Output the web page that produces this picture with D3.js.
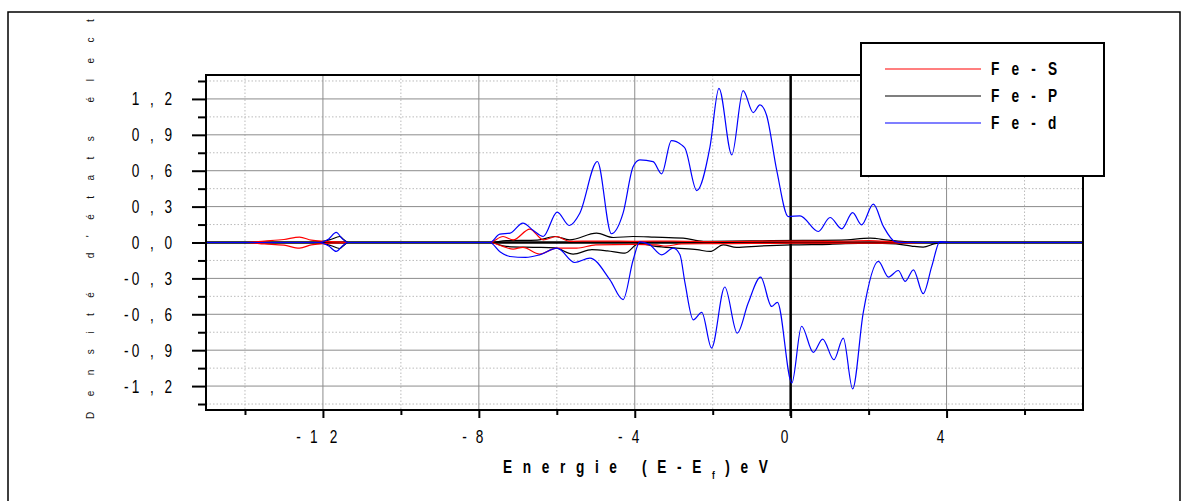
<!DOCTYPE html>
<html>
<head>
<meta charset="utf-8">
<script src="https://cdn.jsdelivr.net/npm/d3@7"></script>
<style>
  html, body { margin: 0; padding: 0; background: #fff; }
  svg { display: block; }
</style>
</head>
<body>
<svg id="chart" width="1189" height="501"></svg>
<script>
// ---- Axis ticks and labels ----
const xMajorTicks = [-12, -8, -4, 0, 4];
const xMinorTicks = [-14, -10, -6, -2, 2, 6];
const xTickLabels = ["-12", "-8", "-4", "0", "4"];
const yMajorTicks = [-1.2, -0.9, -0.6, -0.3, 0, 0.3, 0.6, 0.9, 1.2];
const yMinorTicks = [-1.35, -1.05, -0.75, -0.45, -0.15, 0.15, 0.45, 0.75, 1.05, 1.35];
const yTickLabels = ["-1,2", "-0,9", "-0,6", "-0,3", "0,0", "0,3", "0,6", "0,9", "1,2"];

// ---- Legend ----
const seriesNames = ["Fe-S", "Fe-P", "Fe-d"];
const seriesColors = ["#ff0000", "#000000", "#0000ff"];

// ---- Partial DOS, [E - Ef (eV), states] ; spin up > 0, spin down < 0 ----
const feSUp = [[-15,0],[-14,0],[-13.5,0.012],[-13,0.025],[-12.6,0.045],[-12.3,0.02],[-12,0.01],[-11.6,0.005],[-11.36,0],
  [-7.72,0],[-7.38,0.05],[-7.12,0.022],[-6.69,0.112],[-6.35,0.022],[-6.01,0.05],[-5.67,0.01],[-5,0.012],[-4,0.01],
  [-3,0.012],[-2,0.008],[-1,0.01],[0,0.012],[1,0.01],[2,0.015],[2.7,0.005],[3.2,0],[7.5,0]];
const feSDown = [[-15,0],[-14,0],[-13.5,-0.012],[-13,-0.022],[-12.6,-0.047],[-12.3,-0.02],[-12,-0.01],[-11.6,-0.004],[-11.36,0],
  [-7.72,0],[-7.38,-0.033],[-7.12,-0.055],[-6.87,-0.04],[-6.44,-0.097],[-6.01,-0.047],[-5.49,-0.047],[-5,-0.02],[-4,-0.015],
  [-3.44,-0.02],[-3.2,-0.03],[-2.8,-0.012],[-2,-0.01],[-1,-0.008],[0,-0.006],[1,-0.006],[2,-0.005],[3,-0.004],[3.5,0],[7.5,0]];
const fePUp = [[-15,0],[-12.2,0],[-11.8,0.025],[-11.57,0.05],[-11.45,0.02],[-11.36,0],
  [-7.72,0],[-7.3,0.015],[-6.5,0.02],[-6.05,0.05],[-5.67,0.022],[-4.98,0.078],[-4.55,0.042],[-4.04,0.05],[-3.5,0.045],
  [-2.76,0.036],[-2.24,0.01],[-1.5,0.012],[-0.5,0.015],[0.5,0.018],[1.3,0.02],[2.04,0.036],[2.5,0.02],[3,0.004],[3.4,0],[7.5,0]];
const fePDown = [[-15,0],[-12.2,0],[-11.8,-0.025],[-11.57,-0.05],[-11.45,-0.02],[-11.36,0],
  [-7.72,0],[-7.3,-0.033],[-6.6,-0.04],[-6.05,-0.045],[-5.58,-0.097],[-5.1,-0.06],[-4.7,-0.07],[-4.25,-0.089],[-3.9,-0.01],
  [-3.5,-0.03],[-2.93,-0.047],[-2.4,-0.06],[-2.07,-0.075],[-1.73,-0.02],[-1.39,-0.04],[-0.8,-0.03],[0,-0.02],[1,-0.015],
  [2,-0.005],[2.7,-0.012],[3.1,-0.03],[3.4,-0.039],[3.7,-0.01],[3.9,0],[7.5,0]];
const feDUp = [[-15,0],[-12.1,0],[-11.85,0.03],[-11.66,0.084],[-11.5,0.03],[-11.36,0],
  [-7.72,0],[-7.46,0.07],[-7.2,0.078],[-6.87,0.162],[-6.6,0.1],[-6.35,0.05],[-5.99,0.254],[-5.68,0.142],[-5.41,0.245],
  [-4.96,0.677],[-4.6,0.073],[-4.3,0.245],[-4.04,0.635],[-3.87,0.69],[-3.53,0.676],[-3.31,0.574],[-3.06,0.852],
  [-2.8,0.816],[-2.71,0.788],[-2.41,0.434],[-2.07,0.8],[-1.84,1.289],[-1.51,0.732],[-1.22,1.27],[-0.96,1.086],
  [-0.79,1.15],[-0.62,1.066],[-0.36,0.607],[-0.06,0.217],[0.24,0.223],[0.71,0.092],[1.01,0.209],[1.31,0.114],
  [1.59,0.25],[1.82,0.148],[2.12,0.32],[2.38,0.134],[2.68,0.008],[2.9,0],[7.5,0]];
const feDDown = [[-15,0],[-12.1,0],[-11.85,-0.03],[-11.66,-0.075],[-11.5,-0.03],[-11.36,0],
  [-7.72,0],[-7.45,-0.08],[-7.2,-0.117],[-6.8,-0.125],[-6.44,-0.103],[-5.99,-0.047],[-5.54,-0.167],[-5.15,-0.13],
  [-4.64,-0.31],[-4.3,-0.478],[-4.04,-0.144],[-3.87,0.005],[-3.61,-0.02],[-3.31,-0.103],[-3.01,-0.047],[-2.84,-0.103],
  [-2.71,-0.34],[-2.5,-0.646],[-2.28,-0.584],[-2.03,-0.882],[-1.69,-0.372],[-1.37,-0.757],[-1.09,-0.506],[-0.77,-0.289],
  [-0.49,-0.534],[-0.34,-0.5],[0.03,-1.174],[0.28,-0.7],[0.58,-0.918],[0.82,-0.807],[1.11,-0.98],[1.35,-0.799],
  [1.59,-1.224],[1.86,-0.59],[2.25,-0.158],[2.51,-0.289],[2.76,-0.234],[2.94,-0.325],[3.15,-0.228],[3.4,-0.428],
  [3.62,-0.2],[3.83,0.008],[4.1,0],[7.5,0]];

const FONT = "'Liberation Sans', Arial, sans-serif";
const SQUEEZE = 0.76;   // horizontal compression giving a condensed face

const svg = d3.select("#chart");
const x = d3.scaleLinear().domain([-15, 7.5]).range([206, 1083]);
const y = d3.scaleLinear().domain([-1.4, 1.4]).range([410, 75]);
const [x0, x1] = x.range();
const [yb, yt] = y.range();

// condensed text anchored at (px, py)
function condensed(parent, px, py, anchor, size, weight) {
  return parent.append("g").attr("transform", `translate(${px},${py}) scale(${SQUEEZE},1)`)
    .append("text").attr("text-anchor", anchor)
    .attr("font-family", FONT).attr("font-size", size).attr("font-weight", weight || "normal")
    .attr("fill", "#000");
}

// outer frame
svg.append("rect").attr("x", 8).attr("y", 12).attr("width", 1172).attr("height", 530)
  .attr("fill", "#fff").attr("stroke", "#000").attr("stroke-width", 1.5);

// vertical axis title, cut off by the frame
svg.append("clipPath").attr("id", "titleClip")
  .append("rect").attr("x", 9).attr("y", 13).attr("width", 180).attr("height", 500);
svg.append("g").attr("clip-path", "url(#titleClip)")
  .append("text")
  .attr("transform", `translate(94,419) rotate(-90)`)
  .attr("font-family", FONT)
  .attr("font-size", 10)
  .attr("letter-spacing", 15.5)
  .attr("fill", "#111")
  .text("Densité d'états électroniques");

// grid
const grid = svg.append("g");
grid.selectAll(".vmin").data(xMinorTicks).join("line")
  .attr("x1", d => x(d)).attr("x2", d => x(d)).attr("y1", yt).attr("y2", yb)
  .attr("stroke", "#bbb").attr("stroke-width", 1).attr("stroke-dasharray", "1.5,2");
grid.selectAll(".hmin").data(yMinorTicks).join("line")
  .attr("x1", x0).attr("x2", x1).attr("y1", d => y(d)).attr("y2", d => y(d))
  .attr("stroke", "#bbb").attr("stroke-width", 1).attr("stroke-dasharray", "1.5,2");
grid.selectAll(".vmaj").data(xMajorTicks.filter(d => d !== 0)).join("line")
  .attr("x1", d => x(d)).attr("x2", d => x(d)).attr("y1", yt).attr("y2", yb)
  .attr("stroke", "#8c8c8c").attr("stroke-width", 1);
grid.selectAll(".hmaj").data(yMajorTicks.filter(d => d !== 0)).join("line")
  .attr("x1", x0).attr("x2", x1).attr("y1", d => y(d)).attr("y2", d => y(d))
  .attr("stroke", "#8c8c8c").attr("stroke-width", 1);

// Fermi level and zero line
svg.append("line").attr("x1", x(0)).attr("x2", x(0)).attr("y1", yt).attr("y2", yb + 6)
  .attr("stroke", "#000").attr("stroke-width", 2.5);
svg.append("line").attr("x1", x0).attr("x2", x1).attr("y1", y(0)).attr("y2", y(0))
  .attr("stroke", "#000").attr("stroke-width", 2.5);

// curves
svg.append("clipPath").attr("id", "plotClip")
  .append("rect").attr("x", x0).attr("y", yt).attr("width", x1 - x0).attr("height", yb - yt);
const line = d3.line().x(d => x(d[0])).y(d => y(d[1])).curve(d3.curveMonotoneX);
const curves = [
  { data: fePUp, color: seriesColors[1] }, { data: fePDown, color: seriesColors[1] },
  { data: feSUp, color: seriesColors[0] }, { data: feSDown, color: seriesColors[0] },
  { data: feDUp, color: seriesColors[2] }, { data: feDDown, color: seriesColors[2] }
];
svg.append("g").attr("clip-path", "url(#plotClip)")
  .selectAll("path").data(curves).join("path")
  .attr("d", d => line(d.data))
  .attr("fill", "none").attr("stroke", d => d.color).attr("stroke-width", 1.2);

// tick marks
function tickStyle(g) {
  g.select(".domain").remove();
  g.selectAll(".tick line").attr("stroke", "#000").attr("stroke-width", 2);
  g.selectAll(".tick text").remove();
}
svg.append("g").attr("transform", `translate(${x0},0)`)
  .call(d3.axisLeft(y).tickValues(yMajorTicks).tickSize(14).tickFormat("")).call(tickStyle);
svg.append("g").attr("transform", `translate(${x0},0)`)
  .call(d3.axisLeft(y).tickValues(yMinorTicks).tickSize(8).tickFormat("")).call(tickStyle);
svg.append("g").attr("transform", `translate(0,${yb})`)
  .call(d3.axisBottom(x).tickValues(xMajorTicks).tickSize(8).tickFormat("")).call(tickStyle);
svg.append("g").attr("transform", `translate(0,${yb})`)
  .call(d3.axisBottom(x).tickValues(xMinorTicks).tickSize(5).tickFormat("")).call(tickStyle);

// plot frame
svg.append("rect").attr("x", x0).attr("y", yt).attr("width", x1 - x0).attr("height", yb - yt)
  .attr("fill", "none").attr("stroke", "#000").attr("stroke-width", 2);

// tick labels (sign kept close, digits spread)
function spacedLabel(sel, str, signGap, gap) {
  const neg = str.startsWith("-");
  if (neg) sel.append("tspan").attr("letter-spacing", signGap).text("-");
  sel.append("tspan").attr("letter-spacing", gap).text(neg ? str.slice(1) : str);
}
const yGap = 14;
yMajorTicks.forEach((v, i) => {
  const t = condensed(svg, 172, y(v), "end", 18).attr("x", yGap).attr("dy", "0.36em");
  spacedLabel(t, yTickLabels[i], 4, yGap);
});
const xGap = 16;
xMajorTicks.forEach((v, i) => {
  const t = condensed(svg, x(v), 437, "middle", 18).attr("dy", "0.36em");
  spacedLabel(t, xTickLabels[i], 12, xGap);
});

// horizontal axis title
const xt = condensed(svg, 503, 473, "start", 18, "bold").attr("letter-spacing", 14);
xt.append("tspan").text("Energie (E-E");
xt.append("tspan").attr("font-size", 11).attr("dy", 6).text("f");
xt.append("tspan").attr("dy", -6).text(")eV");

// legend
const lg = svg.append("g");
lg.append("rect").attr("x", 861).attr("y", 43).attr("width", 243).attr("height", 133)
  .attr("fill", "#fff").attr("stroke", "#000").attr("stroke-width", 2);
seriesNames.forEach((name, i) => {
  const ly = 69 + i * 27;
  lg.append("line").attr("x1", 885).attr("x2", 981).attr("y1", ly).attr("y2", ly)
    .attr("stroke", seriesColors[i]).attr("stroke-width", 1.2);
  condensed(lg, 991, ly, "start", 18, "bold").attr("dy", "0.36em")
    .attr("letter-spacing", 16).text(name);
});
</script>
</body>
</html>
